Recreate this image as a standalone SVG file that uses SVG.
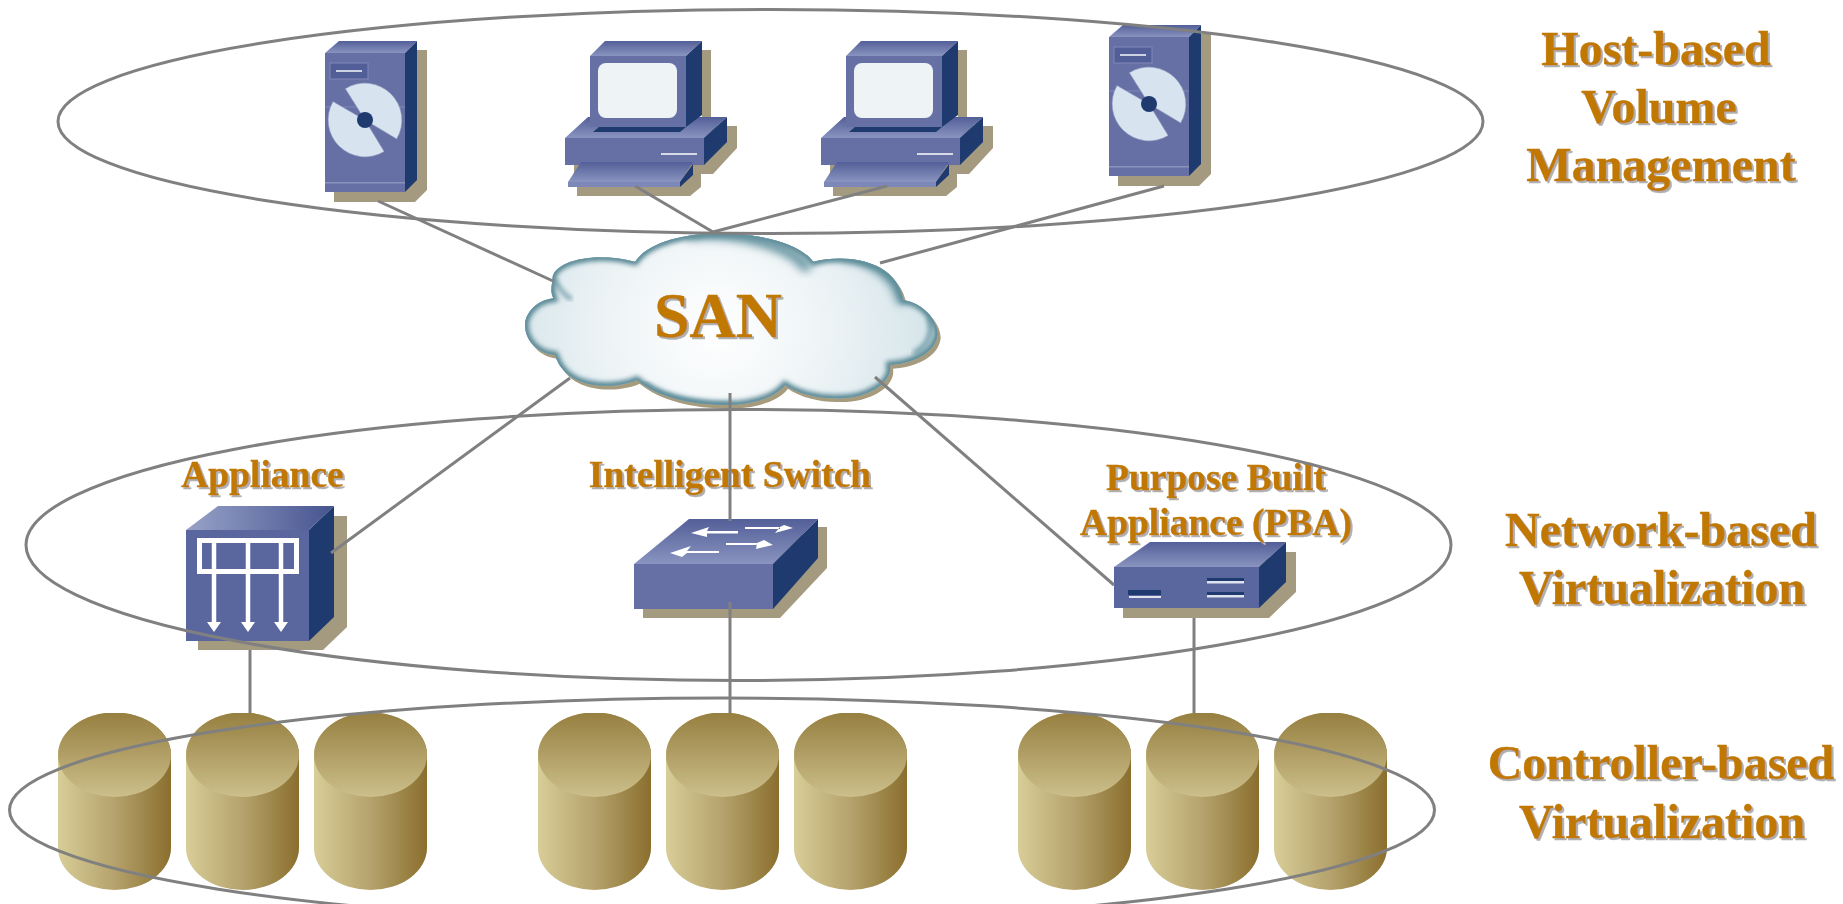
<svg xmlns="http://www.w3.org/2000/svg" width="1843" height="904" viewBox="0 0 1843 904">
<style>
.sh{fill:#a39a80}
.fr{fill:#6670a5}
.fr2{fill:#5a669e}
.sd{fill:#1e3a6e}
.tp{fill:url(#topG)}
.lbl{font-family:"Liberation Serif","Times New Roman",serif;font-weight:bold;fill:#c07800;stroke:#c07800;stroke-width:.4;text-anchor:middle;filter:url(#txtS)}
.big{font-size:48px}
.mid{font-size:37.500px}
.conn{stroke:#808080;stroke-width:3;fill:none}
.reg{stroke:#808080;stroke-width:3;fill:none}
.wht{fill:#fff}
</style>
<defs>
<linearGradient id="topG" x1="0" y1="0" x2="0" y2="1"><stop offset="0" stop-color="#535f98"/><stop offset="1" stop-color="#8a94c0"/></linearGradient>
<linearGradient id="appTop" x1="0" y1="0" x2="1" y2="0"><stop offset="0" stop-color="#98a2c8"/><stop offset="1" stop-color="#46548f"/></linearGradient>
<linearGradient id="cylBody" x1="0" y1="0" x2="1" y2="0"><stop offset="0" stop-color="#d8cd98"/><stop offset=".5" stop-color="#b5a26c"/><stop offset="1" stop-color="#8a6f2e"/></linearGradient>
<linearGradient id="cylCap" x1="0" y1="0" x2="0" y2="1"><stop offset="0" stop-color="#967f40"/><stop offset="1" stop-color="#ccbf8b"/></linearGradient>
<radialGradient id="cloudF" gradientUnits="userSpaceOnUse" cx="650" cy="330" r="640"><stop offset="0" stop-color="#ffffff"/><stop offset=".5" stop-color="#eef4f6"/><stop offset="1" stop-color="#d6e5ea"/></radialGradient>
<filter id="txtS" x="-5%" y="-10%" width="112%" height="125%"><feDropShadow dx="2" dy="2" stdDeviation=".6" flood-color="#b0b0b0"/></filter>
<filter id="blur" x="-10%" y="-10%" width="120%" height="120%"><feGaussianBlur stdDeviation="8"/></filter>
<filter id="blurW" x="-20%" y="-20%" width="140%" height="140%"><feGaussianBlur stdDeviation="14"/></filter>
<path id="cloudP" d="M158,180C150,130 270,90 405,125C450,60 570,40 660,40C780,40 900,70 940,125C1040,100 1190,120 1210,240C1270,250 1315,300 1313,345C1305,400 1240,430 1170,435C1180,490 1100,540 1000,535C950,535 890,520 855,495C820,540 740,555 680,555C570,555 470,530 410,480C360,505 200,520 165,405C110,400 75,360 75,315C75,280 110,240 160,235C150,215 155,195 158,180Z"/>
<clipPath id="cloudC"><use href="#cloudP"/></clipPath>
<g id="serverShape">
<polygon class="sh" points="417,50 427,50 427,190 415,202 334,202 334,192"/>
<polygon class="tp" points="325,53 339,41 417,41 405,53"/>
<rect class="fr" x="325" y="53" width="80" height="139"/>
<polygon class="sd" points="405,53 417,41 417,180 405,192"/>
<rect x="325" y="106.500" width="80" height="1" fill="#8088b4"/>
<rect x="325" y="182" width="80" height="1.500" fill="#8a93bd"/>
<rect x="330" y="63" width="38" height="16" fill="#525e97" stroke="#8088b4" stroke-width="1"/>
<rect x="336" y="70" width="26" height="2" fill="#cdd3e3"/>
<path d="M365,120L345.300,88.700A37,37 0 0 1 396.700,139Z" fill="#d7e3ef" stroke="#8a94bd" stroke-width=".6"/>
<path d="M365,120L333,101.500A37,37 0 0 0 384.200,151.600Z" fill="#d7e3ef" stroke="#8a94bd" stroke-width=".6"/>
<circle cx="365" cy="120" r="8" fill="#1e3a6e"/>
</g>
<g id="pcShape">
<polygon class="sh" points="702,50 711,50 711,126 737,126 737,148 713,174 701,174 701,187 690,196 577,196 577,175 574,175 574,165 702,120"/>
<polygon class="tp" points="565,138 588,117 727,117 704,138"/>
<rect class="fr" x="565" y="138" width="139" height="27"/>
<polygon class="sd" points="704,138 727,117 727,142 704,165"/>
<rect x="661" y="153" width="36" height="2" fill="#d5d9e8"/>
<polygon class="sd" points="593,132 599,127 686,127 680,132"/>
<polygon class="tp" points="590,56 605,41 702,41 686,56"/>
<rect class="fr" x="590" y="56" width="96" height="71"/>
<polygon class="sd" points="686,56 702,41 702,115 686,127"/>
<rect x="598" y="63" width="79" height="55" rx="8" fill="#eef3f6"/>
<polygon class="tp" points="581,162 693,162 680,182 568,182"/>
<rect x="568" y="182" width="112" height="5" fill="#7d87b8"/>
<polygon class="sd" points="680,182 693,164 693,175 680,187"/>
</g>
<g id="cylShape">
<path d="M0,42A56.500,42.500 0 0 1 113,42V135A56.500,42 0 0 1 0,135Z" fill="url(#cylBody)"/>
<path d="M0,42A56.500,42.500 0 0 1 113,42A56.500,42 0 0 1 0,42Z" fill="url(#cylCap)"/>
</g>
<clipPath id="cylClip"><rect x="0" y="713" width="1843" height="191"/></clipPath>
</defs>
<rect width="1843" height="904" fill="#fff"/>
<g id="host-server-1"><use href="#serverShape"/></g>
<g id="host-pc-1"><use href="#pcShape"/></g>
<g id="host-pc-2"><use href="#pcShape" x="256"/></g>
<g id="host-server-2"><use href="#serverShape" x="784" y="-16"/></g>
<g id="san-cloud">
<g transform="translate(500 220) scale(.3333)">
<use href="#cloudP" fill="#a79b7e" transform="translate(9 11)"/>
<use href="#cloudP" fill="url(#cloudF)"/>
<g clip-path="url(#cloudC)">
<use href="#cloudP" fill="none" stroke="#4f818f" stroke-width="22" filter="url(#blur)"/>
<path d="M560,45C720,30 880,80 925,150" fill="none" stroke="#5f8f9c" stroke-width="30" filter="url(#blurW)"/>
<path d="M1020,105C1110,115 1200,170 1205,250" fill="none" stroke="#5f8f9c" stroke-width="30" filter="url(#blurW)"/>
<path d="M430,490C500,545 620,560 700,555" fill="none" stroke="#5f8f9c" stroke-width="14" filter="url(#blur)"/>
<path d="M165,180C175,200 190,225 215,238" fill="none" stroke="#5f8f9c" stroke-width="10" filter="url(#blur)"/>
<path d="M1240,400C1290,375 1300,330 1285,290" fill="none" stroke="#5f8f9c" stroke-width="12" filter="url(#blur)"/>
<use href="#cloudP" fill="none" stroke="#6a96a3" stroke-width="4"/>
</g>
</g>
<text class="lbl" x="718" y="337" font-size="64">SAN</text>
</g>
<g id="appliance">
<polygon class="sh" points="334,516 347,516 347,627 323,650 198,650 198,641"/>
<polygon fill="url(#appTop)" points="186,530 218,506 334,506 309,530"/>
<rect class="fr2" x="186" y="530" width="123" height="111"/>
<polygon class="sd" points="309,530 334,506 334,617 309,641"/>
<rect x="199.500" y="540.500" width="97" height="31" fill="none" stroke="#fff" stroke-width="5"/>
<path d="M214,540V623M248,540V623M281,540V623" stroke="#fff" stroke-width="4.500" fill="none"/>
<path class="wht" d="M207,622h14l-7,10zM241,622h14l-7,10zM274,622h14l-7,10z"/>
<text class="lbl mid" x="262.500" y="487">Appliance</text>
</g>
<g id="intelligent-switch">
<polygon class="sh" points="818,527 827,527 827,568 780,618 643,618 643,609"/>
<polygon class="tp" points="634,564 689,519 818,519 773,564"/>
<rect class="fr" x="634" y="564" width="139" height="45"/>
<polygon class="sd" points="773,564 818,519 818,558 773,609"/>
<g class="wht">
<path d="M691,533L709,527L707,531H738V533.500H707L707,537Z"/>
<path d="M745,527H780L775,533L793,528L784,525L780,527V529H745Z"/>
<path d="M726,543H757L756,549L773,545L764,540L757,543V545H726Z"/>
<path d="M670,553L691,546L687,551H719V553H687L682,557Z"/>
</g>
<text class="lbl mid" x="730" y="487">Intelligent Switch</text>
</g>
<g id="pba">
<polygon class="sh" points="1286,552 1296,552 1296,592 1269,618 1123,618 1123,608"/>
<polygon class="tp" points="1114,567 1150,542 1286,542 1259,567"/>
<rect class="fr2" x="1114" y="567" width="145" height="41"/>
<polygon class="sd" points="1259,567 1286,542 1286,582 1259,608"/>
<rect class="sd" x="1128" y="590" width="33" height="5"/>
<rect x="1129" y="596" width="32" height="2" fill="#dfe3ee"/>
<rect class="sd" x="1207" y="578" width="37" height="3"/>
<rect x="1207" y="581" width="37" height="2.500" fill="#dfe3ee"/>
<rect class="sd" x="1207" y="592" width="37" height="3"/>
<rect x="1207" y="595" width="37" height="2.500" fill="#dfe3ee"/>
<text class="lbl mid" x="1216" y="490">Purpose Built</text>
<text class="lbl mid" x="1216" y="535">Appliance (PBA)</text>
</g>
<g id="disks" clip-path="url(#cylClip)">
<g id="disk-1"><use href="#cylShape" x="58" y="713"/></g>
<g id="disk-2"><use href="#cylShape" x="186" y="713"/></g>
<g id="disk-3"><use href="#cylShape" x="314" y="713"/></g>
<g id="disk-4"><use href="#cylShape" x="538" y="713"/></g>
<g id="disk-5"><use href="#cylShape" x="666" y="713"/></g>
<g id="disk-6"><use href="#cylShape" x="794" y="713"/></g>
<g id="disk-7"><use href="#cylShape" x="1018" y="713"/></g>
<g id="disk-8"><use href="#cylShape" x="1146" y="713"/></g>
<g id="disk-9"><use href="#cylShape" x="1274" y="713"/></g>
</g>
<g id="tier-labels">
<text class="lbl big" x="1656" y="65">Host-based</text>
<text class="lbl big" x="1659" y="123">Volume</text>
<text class="lbl big" x="1661" y="181">Management</text>
<text class="lbl big" x="1661" y="546">Network-based</text>
<text class="lbl big" x="1662" y="604">Virtualization</text>
<text class="lbl big" x="1661" y="779">Controller-based</text>
<text class="lbl big" x="1662" y="838">Virtualization</text>
</g>
<g id="tiers">
<ellipse class="reg" cx="770.500" cy="121.500" rx="712.500" ry="112"/>
<ellipse class="reg" cx="738.500" cy="545" rx="712.500" ry="135.500"/>
<ellipse class="reg" cx="722" cy="810" rx="712.500" ry="112"/>
</g>
<g id="connectors">
<path class="conn" d="M378,201L553,281"/>
<path class="conn" d="M635,186L713,232"/>
<path class="conn" d="M887,186L713,232"/>
<path class="conn" d="M1164,186L880,263"/>
<path class="conn" d="M570,378L331,553"/>
<path class="conn" d="M730,393V521"/>
<path class="conn" d="M730,602V713"/>
<path class="conn" d="M875,377L1114,585"/>
<path class="conn" d="M250,650V713"/>
<path class="conn" d="M1194,618V713"/>
</g>
</svg>
